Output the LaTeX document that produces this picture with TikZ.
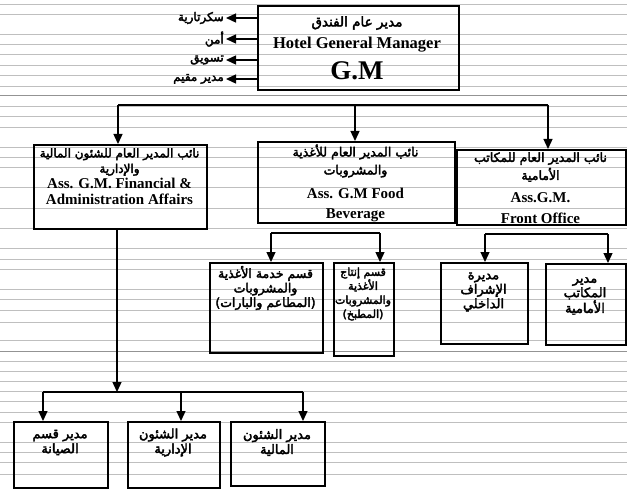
\documentclass[tikz,border=0pt]{standalone}
\usepackage{fontspec}
\setmainfont{Liberation Serif}
\newfontfamily\arabicfont[Script=Arabic,FakeBold=3]{DejaVu Sans}
\TeXXeTstate=1
\usetikzlibrary{arrows.meta}
\newcommand\AR[1]{{\arabicfont\beginR #1\endR}}
\begin{document}
\begin{tikzpicture}[x=1pt,y=-1pt,
  bgline/.style={gray!50,line width=0.8pt},
  bgdark/.style={gray!85,line width=1pt},
  box/.style={draw,line width=1.6pt,inner sep=0pt,anchor=north west},
  conn/.style={line width=1.3pt},
  arr/.style={line width=1.3pt,-{Triangle[width=9pt,length=10pt]}},
  ar/.style={align=center,inner sep=0pt},
  en/.style={align=center,inner sep=0pt},
  lab/.style={font=\fontsize{12}{14}\selectfont,anchor=east,inner sep=0pt}
]
\useasboundingbox (0,0) rectangle (627,492);
% ruled background
\foreach \yy in {4,14,34,44,54,65,75,86,106,116,127,147,157,167,187,208,228,248,259,269,289,299,310,322,340,361,371,381,391,401,412,422,442,452,462,474}
  \draw[bgline] (0,\yy) -- (627,\yy);
\foreach \yy in {96,351}
  \draw[bgdark] (0,\yy) -- (627,\yy);

% GM box
\node[box,minimum width=201pt,minimum height=84pt] (gm) at (257,5) {};
\node[ar,font=\fontsize{13.5}{16}\selectfont] (gmar) at (357,23) {\AR{مدير عام الفندق}};
\node[en,font=\fontsize{16.5}{18}\selectfont\bfseries] (gmen) at (357,45) {Hotel General Manager};
\node[en,font=\fontsize{27}{30}\selectfont\bfseries] (gmab) at (357,71) {G.M};

% side staff
\coordinate (s1) at (226,18);
\coordinate (s2) at (226,39);
\coordinate (s3) at (226,60);
\coordinate (s4) at (226,79);
\foreach \c in {s1,s2,s3,s4} \draw[arr] (gm.west |- \c) -- (\c);
\node[lab] (l1) at ([xshift=-2pt]s1) {\AR{سكرتارية}};
\node[lab] (l2) at ([xshift=-2pt]s2) {\AR{أمن}};
\node[lab] (l3) at ([xshift=-2pt]s3) {\AR{تسويق}};
\node[lab] (l4) at ([xshift=-2pt]s4) {\AR{مدير مقيم}};

% level 1 boxes
\node[box,minimum width=173pt,minimum height=84pt] (A) at (33,144) {};
\node[box,minimum width=197pt,minimum height=81pt] (B) at (257,141) {};
\node[box,minimum width=169pt,minimum height=75pt] (C) at (456,149) {};

\node[ar,font=\fontsize{12}{15.5}\selectfont] (Aar) at (119.5,162) {\AR{نائب المدير العام للشئون المالية}\\\AR{والإدارية}};
\node[en,font=\fontsize{15}{16}\selectfont\bfseries] (Aen) at (119.5,191.5) {Ass. G.M. Financial \&\\Administration Affairs};
\node[ar,font=\fontsize{12.5}{18}\selectfont] (Bar) at (355.5,161) {\AR{نائب المدير العام للأغذية}\\\AR{والمشروبات}};
\node[en,font=\fontsize{15}{20}\selectfont\bfseries] (Ben) at (355.5,205) {Ass. G.M Food\\Beverage};
\node[ar,font=\fontsize{12.5}{18}\selectfont] (Car) at (540.5,167) {\AR{نائب المدير العام للمكاتب}\\\AR{الأمامية}};
\node[en,font=\fontsize{15}{21}\selectfont\bfseries] (Cen) at (540.5,208) {Ass.G.M.\\Front Office};

% level 1 connectors
\coordinate (h1l) at (118,105);
\coordinate (h1m) at (355,105);
\coordinate (h1r) at (548,105);
\draw[conn] (h1l) -- (h1r);
\draw[arr] (h1l) -- (h1l |- A.north);
\draw[arr] (h1m) -- (h1m |- B.north);
\draw[arr] (h1r) -- (h1r |- C.north);

% B subtree
\node[box,minimum width=113pt,minimum height=90pt] (B1) at (209,262) {};
\node[box,minimum width=60pt,minimum height=93pt] (B2) at (333,262) {};
\node[ar,font=\fontsize{12.5}{14.5}\selectfont] (B1t) at (265.5,288) {\AR{قسم خدمة الأغذية}\\\AR{والمشروبات}\\\AR{(المطاعم والبارات)}};
\node[ar,font=\fontsize{11}{14}\selectfont] (B2t) at (363,294) {\AR{قسم إنتاج}\\\AR{الأغذية}\\\AR{والمشروبات}\\\AR{(المطبخ)}};
\coordinate (h2l) at (271,233);
\coordinate (h2r) at (380,233);
\draw[conn] (h2l) -- (h2r);
\draw[arr] (h2l) -- (h2l |- B1.north);
\draw[arr] (h2r) -- (h2r |- B2.north);

% C subtree
\node[box,minimum width=87pt,minimum height=81pt] (C1) at (440,262) {};
\node[box,minimum width=80pt,minimum height=81pt] (C2) at (545,263) {};
\node[ar,font=\fontsize{13}{14.5}\selectfont] (C1t) at (483.5,292) {\AR{مديرة}\\\AR{الإشراف}\\\AR{الداخلي}};
\node[ar,font=\fontsize{13}{14.5}\selectfont] (C2t) at (585,296) {\AR{مدير}\\\AR{المكاتب}\\\AR{الأمامية}};
\coordinate (h3l) at (485,234);
\coordinate (h3r) at (608,234);
\draw[conn] (h3l) -- (h3r);
\draw[arr] (h3l) -- (h3l |- C1.north);
\draw[arr] (h3r) -- (h3r |- C2.north);

% A subtree
\node[box,minimum width=94pt,minimum height=66pt] (A1) at (13,421) {};
\node[box,minimum width=92pt,minimum height=66pt] (A2) at (127,421) {};
\node[box,minimum width=94pt,minimum height=64pt] (A3) at (230,421) {};
\node[ar,font=\fontsize{13}{15}\selectfont] (A1t) at (60,442.5) {\AR{مدير قسم}\\\AR{الصيانة}};
\node[ar,font=\fontsize{13}{15}\selectfont] (A2t) at (173,442.5) {\AR{مدير الشئون}\\\AR{الإدارية}};
\node[ar,font=\fontsize{13}{15}\selectfont] (A3t) at (277,442.5) {\AR{مدير الشئون}\\\AR{المالية}};
\coordinate (h4m) at (117,392);
\coordinate (h4l) at (43,392);
\coordinate (h4c) at (181,392);
\coordinate (h4r) at (303,392);
\draw[arr] (h4m |- A.south) -- (h4m);
\draw[conn] (h4l) -- (h4r);
\draw[arr] (h4l) -- (h4l |- A1.north);
\draw[arr] (h4c) -- (h4c |- A2.north);
\draw[arr] (h4r) -- (h4r |- A3.north);
\end{tikzpicture}
\end{document}
